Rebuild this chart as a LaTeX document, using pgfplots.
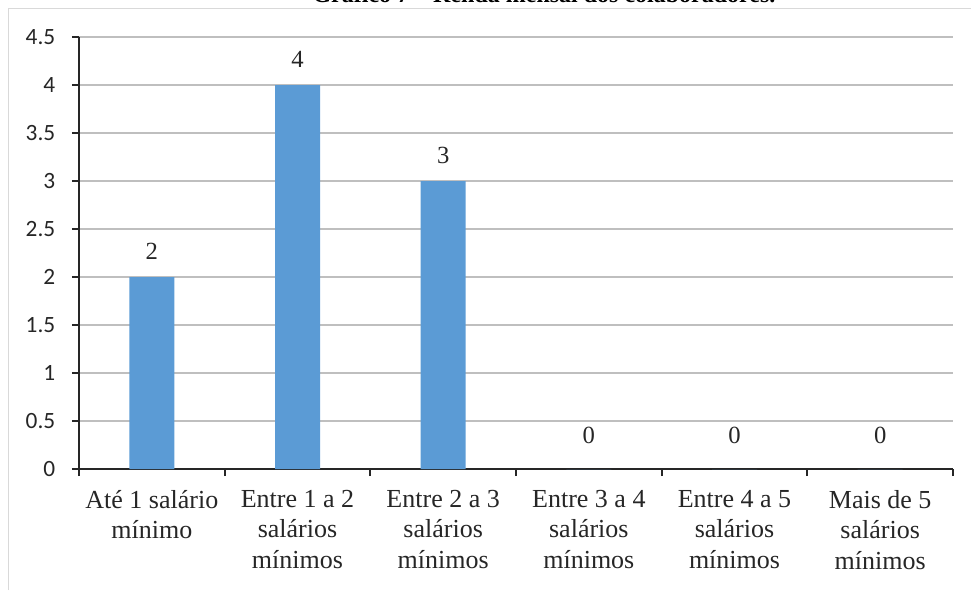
\documentclass[border=0pt]{standalone}
\usepackage{fontspec}
\setmainfont{Liberation Serif}
\newfontfamily\calibri{Carlito}
\usepackage{pgfplots}
\pgfplotsset{compat=1.18}
\definecolor{barblue}{RGB}{91,155,213}
\definecolor{gridgray}{RGB}{191,191,191}
\definecolor{framegray}{RGB}{217,217,217}
\definecolor{axisblack}{RGB}{38,38,38}
\begin{document}
\begin{tikzpicture}
\useasboundingbox (0pt,0pt) rectangle (728.25pt,442.5pt);
\draw[framegray, line width=0.9pt] (6.375pt,0pt) -- (6.375pt,436.125pt) -- (728.25pt,436.125pt);
\node[anchor=base, inner sep=0pt, font=\fontsize{18}{22}\selectfont\bfseries] at (408pt,440.25pt) {Gráfico 7 – Renda mensal dos colaboradores.};
\begin{axis}[
  at={(59.25pt,90.75pt)}, anchor=south west,
  scale only axis, width=655.5pt, height=324pt,
  xmin=-0.5, xmax=5.5, ymin=0, ymax=4.5,
  axis x line*=bottom, axis y line*=left,
  axis line style={axisblack, line width=1.3pt},
  tick align=outside, major tick length=5.25pt,
  tick style={axisblack, line width=1.3pt},
  ymajorgrids, grid style={gridgray, line width=1.3pt},
  ytick={0,0.5,1,1.5,2,2.5,3,3.5,4,4.5},
  xtick={-0.5,0.5,1.5,2.5,3.5,4.5,5.5},
  x tick label as interval,
  xticklabels={Até 1 salário\\mínimo, Entre 1 a 2\\salários\\mínimos, Entre 2 a 3\\salários\\mínimos, Entre 3 a 4\\salários\\mínimos, Entre 4 a 5\\salários\\mínimos, Mais de 5\\salários\\mínimos},
  /pgf/number format/assume math mode=true,
  yticklabel style={font=\calibri\fontsize{17.5}{19}\selectfont, text=axisblack, xshift=-9pt},
  x tick label style={font=\fontsize{19.5}{23}\selectfont, align=center, anchor=north, text=axisblack, yshift=-7pt},
]
\addplot[ybar, bar width=33.75pt, bar shift=0pt, fill=barblue, draw=none,
  nodes near coords,
  every node near coord/.append style={font=\fontsize{18.5}{22}\selectfont, text=axisblack, anchor=base, yshift=13.3pt}]
  coordinates {(0,2) (1,4) (2,3)};
\addplot[ybar, bar width=33.75pt, bar shift=0pt, fill=barblue, draw=none,
  nodes near coords,
  every node near coord/.append style={font=\fontsize{18.5}{22}\selectfont, text=axisblack, anchor=base, yshift=19pt}]
  coordinates {(3,0) (4,0) (5,0)};
\end{axis}
\end{tikzpicture}
\end{document}
